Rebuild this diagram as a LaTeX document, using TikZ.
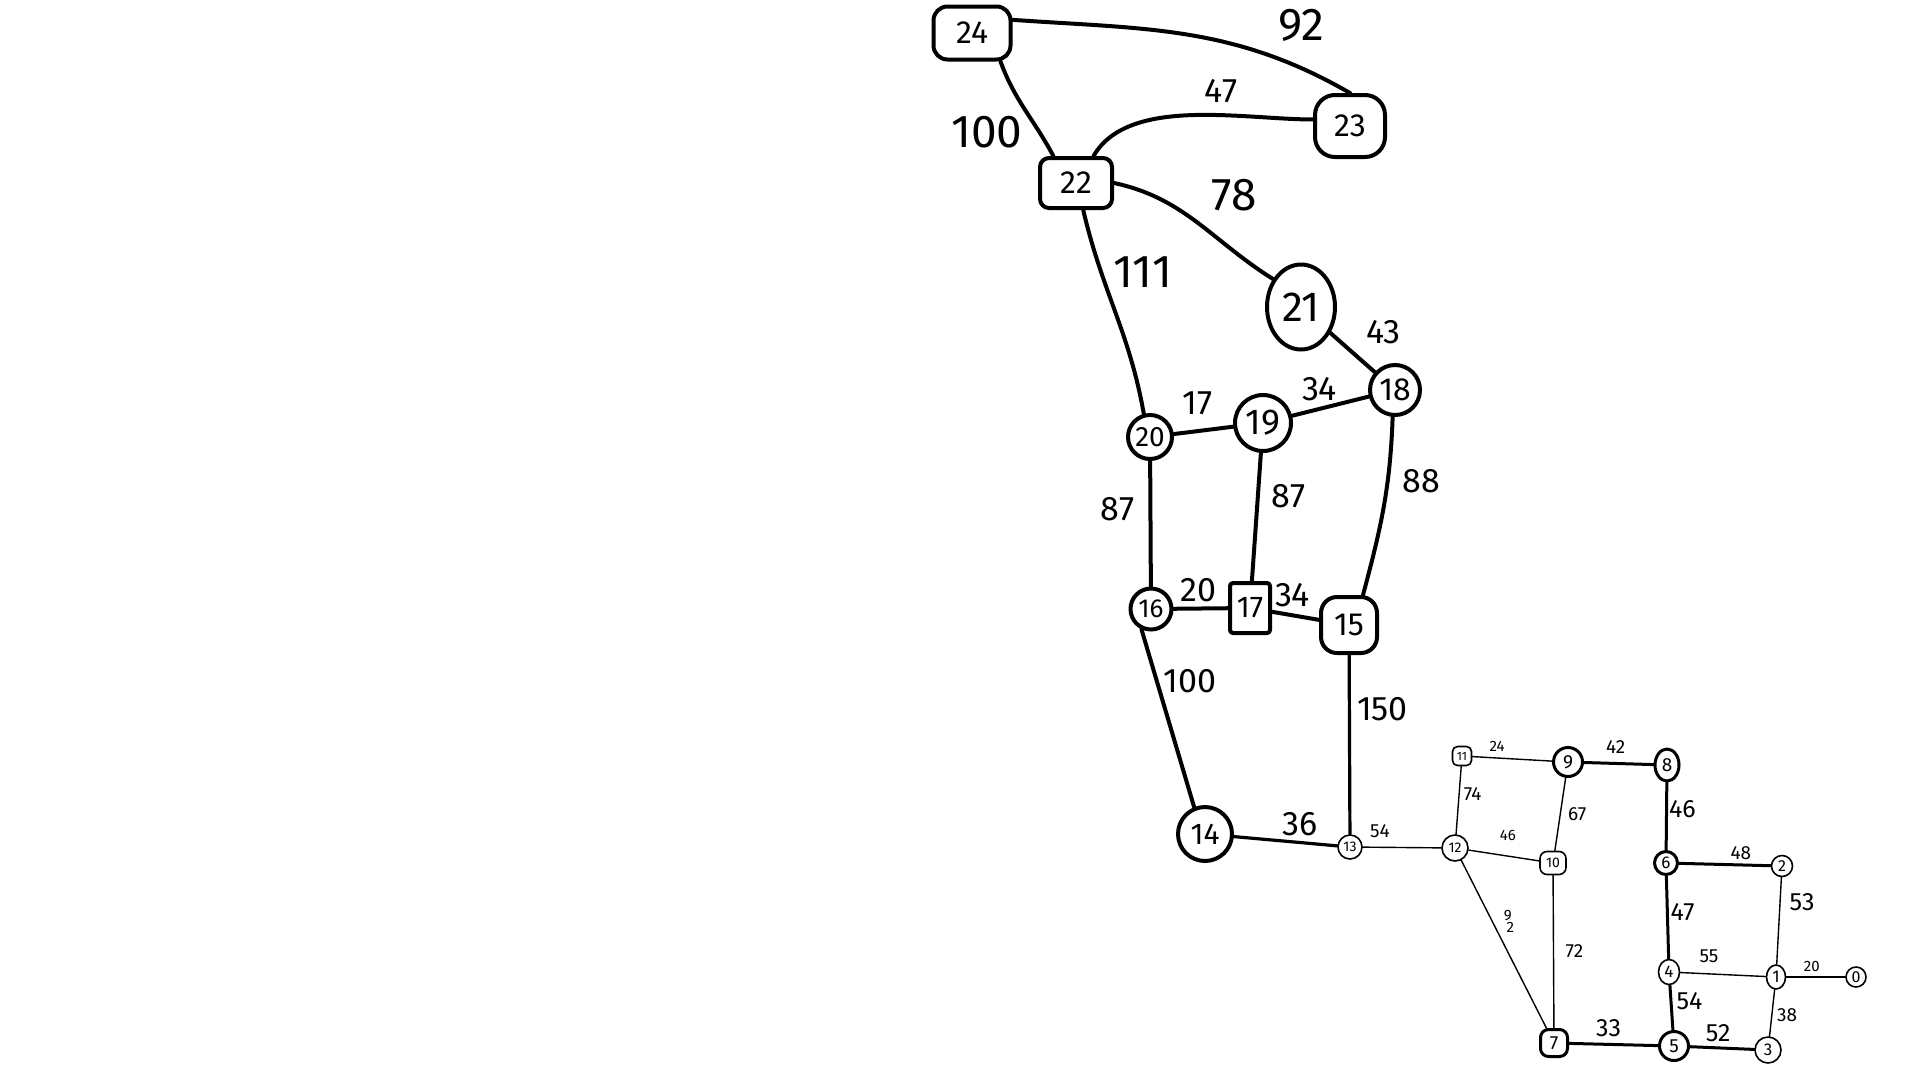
\documentclass[tikz,border=0pt]{standalone}
\usepackage{fontspec}
\setmainfont{Fira Sans}
\usetikzlibrary{shapes.geometric}

\tikzset{
  vnode/.style={draw, circle, line width=4pt, inner sep=0pt, font=\fontsize{32}{34}\selectfont},
  vbox/.style={vnode, rectangle, rounded corners=14pt},
  vsmall/.style={draw, circle, line width=1.6pt, inner sep=0pt, font=\fontsize{14}{15}\selectfont},
  vbold/.style={vsmall, line width=3pt, font=\fontsize{19}{20}\selectfont},
  ebig/.style={line width=4pt},
  emid/.style={line width=3.2pt},
  ebold/.style={line width=3pt},
  ethin/.style={line width=1.4pt},
  lbig/.style={font=\fontsize{46}{48}\selectfont},
  lmid/.style={font=\fontsize{34}{36}\selectfont},
  llow/.style={font=\fontsize{25}{27}\selectfont},
  lsmall/.style={font=\fontsize{19}{20}\selectfont},
  ltiny/.style={font=\fontsize{15}{16}\selectfont}
}

\begin{document}
\begin{tikzpicture}[x=1pt, y=1pt, line cap=round, line join=round]
\useasboundingbox (0,0) rectangle (1920,-1080);

% upper part
\node[vbox, minimum width=77pt, minimum height=53pt] (n24) at (972,-33) {24};
\node[vbox, minimum width=70pt, minimum height=62pt, rounded corners=20pt] (n23) at (1350,-126) {23};
\node[vbox, minimum width=72pt, minimum height=50pt, rounded corners=9pt] (n22) at (1076,-183) {22};
\node[vnode, ellipse, minimum width=68pt, minimum height=85pt, font=\fontsize{42}{44}\selectfont] (n21) at (1301,-307) {21};
\node[vnode, minimum size=50pt] (n18) at (1395,-390) {18};
\node[vnode, minimum size=56pt, font=\fontsize{36}{38}\selectfont] (n19) at (1263,-423) {19};
\node[vnode, minimum size=44pt, font=\fontsize{28}{30}\selectfont] (n20) at (1150,-437) {20};
\node[vnode, minimum size=41pt, font=\fontsize{26}{28}\selectfont] (n16) at (1151,-609) {16};
\node[vbox, minimum width=40pt, minimum height=50pt, rounded corners=3pt, font=\fontsize{30}{32}\selectfont] (n17) at (1250,-608) {17};
\node[vbox, minimum size=56pt, rounded corners=16pt] (n15) at (1349,-625) {15};
\node[vnode, minimum size=54pt, font=\fontsize{30}{32}\selectfont] (n14) at (1205,-834) {14};

% lower part
\node[vsmall, minimum size=24pt] (n13) at (1350,-847) {13};
\node[vsmall, minimum size=26pt] (n12) at (1455,-848) {12};
\node[vsmall, rectangle, rounded corners=5pt, minimum width=19pt, minimum height=19pt, font=\fontsize{12}{13}\selectfont] (n11) at (1462,-756) {11};
\node[vbold, minimum size=29pt] (n9) at (1568,-762) {9};
\node[vbold, ellipse, minimum width=24pt, minimum height=32pt] (n8) at (1667,-765) {8};
\node[vsmall, rectangle, rounded corners=7pt, minimum width=26pt, minimum height=23pt] (n10) at (1553,-863) {10};
\node[vbold, minimum size=23pt, font=\fontsize{17}{18}\selectfont] (n6) at (1666,-863) {6};
\node[vsmall, minimum size=21pt, font=\fontsize{16}{17}\selectfont] (n2) at (1782,-866) {2};
\node[vsmall, ellipse, minimum width=21pt, minimum height=25pt, font=\fontsize{17}{18}\selectfont] (n4) at (1669,-972) {4};
\node[vsmall, ellipse, minimum width=19pt, minimum height=24pt, font=\fontsize{17}{18}\selectfont] (n1) at (1776,-977) {1};
\node[vsmall, minimum size=20pt, font=\fontsize{16}{17}\selectfont] (n0) at (1856,-977) {0};
\node[vbold, rectangle, rounded corners=8pt, minimum size=27pt] (n7) at (1554,-1043) {7};
\node[vbold, minimum size=29pt] (n5) at (1674,-1046) {5};
\node[vsmall, minimum size=26pt, font=\fontsize{17}{18}\selectfont] (n3) at (1768,-1050) {3};

% upper edges
\draw[ebig] (n24.18) to[out=-4, in=150] node[lbig, pos=0.8, shift={(18,35)}] {92} (n23.north);
\draw[ebig] (n22.57) to[out=60, in=180, looseness=0.8] node[lmid, pos=0.55, shift={(18,24)}] {47} (n23.170);
\draw[ebig] (n24.-45) to[out=-70, in=118] node[lbig, pos=0.5, shift={(-38,-23)}] {100} (n22.130);
\draw[ebig] (n22.east) to[out=-12, in=148] node[lbig, pos=0.5, shift={(37,27)}] {78} (n21.135);
\draw[ebig] (n22.-75) to[out=-77, in=100] node[lbig, pos=0.3, shift={(41,2)}] {111} (n20.105);
\draw[ebig] (n21) -- node[lmid, shift={(31,20)}] {43} (n18);
\draw[ebig] (n20) -- node[lmid, shift={(-6,27)}] {17} (n19);
\draw[ebig] (n19) -- node[lmid, shift={(-11,17)}] {34} (n18);
\draw[ebig] (n20) -- node[lmid, shift={(-33,15)}] {87} (n16);
\draw[ebig] (n19) -- node[lmid, shift={(32,21)}] {87} (n17);
\draw[ebig] (n18.-95) to[out=-92, in=75] node[lmid, pos=0.35, shift={(34,1)}] {88} (n15.65);
\draw[ebig] (n16) -- node[lmid, shift={(-2,18)}] {20} (n17);
\draw[ebig] (n17) -- node[lmid, shift={(-3,21)}] {34} (n15);
\draw[ebig] (n16.-115) -- node[lmid, shift={(22,37)}] {100} (n14.112);
\draw[emid] (n15) -- node[lmid, shift={(33,35)}] {150} (n13);
\draw[emid] (n14) -- node[lmid, shift={(14,17)}] {36} (n13);

% lower edges
\draw[ethin] (n13) -- node[lsmall, shift={(-22,16)}] {54} (n12);
\draw[ethin] (n12) -- node[lsmall, shift={(14,6)}] {74} (n11);
\draw[ethin] (n11) -- node[ltiny, shift={(-15,12)}] {24} (n9);
\draw[ebold] (n9) -- node[lsmall, shift={(-3,17)}] {42} (n8);
\draw[ethin] (n9) -- node[lsmall, shift={(17,0)}] {67} (n10);
\draw[ethin] (n12) -- node[ltiny, shift={(4,20)}] {46} (n10);
\draw[ethin] (n12) -- node[align=center, font=\fontsize{15}{12}\selectfont, shift={(4,23)}] {9\\\hspace{5pt}2} (n7);
\draw[ethin] (n10) -- node[lsmall, shift={(21,1)}] {72} (n7);
\draw[ebold] (n8) -- node[llow, shift={(16,7)}] {46} (n6);
\draw[ebold] (n6) -- node[lsmall, shift={(16,11)}] {48} (n2);
\draw[ethin] (n2) -- node[llow, shift={(23,19)}] {53} (n1);
\draw[ebold] (n6) -- node[llow, shift={(15,5)}] {47} (n4);
\draw[ethin] (n4) -- node[lsmall, shift={(-14,18)}] {55} (n1);
\draw[ethin] (n1) -- node[ltiny, shift={(-4,11)}] {20} (n0);
\draw[ebold] (n4) -- node[llow, shift={(18,7)}] {54} (n5);
\draw[ethin] (n1) -- node[lsmall, shift={(15,-2)}] {38} (n3);
\draw[ebold] (n7) -- node[llow, shift={(-5,16)}] {33} (n5);
\draw[ebold] (n5) -- node[llow, shift={(-4,15)}] {52} (n3);

\end{tikzpicture}
\end{document}
